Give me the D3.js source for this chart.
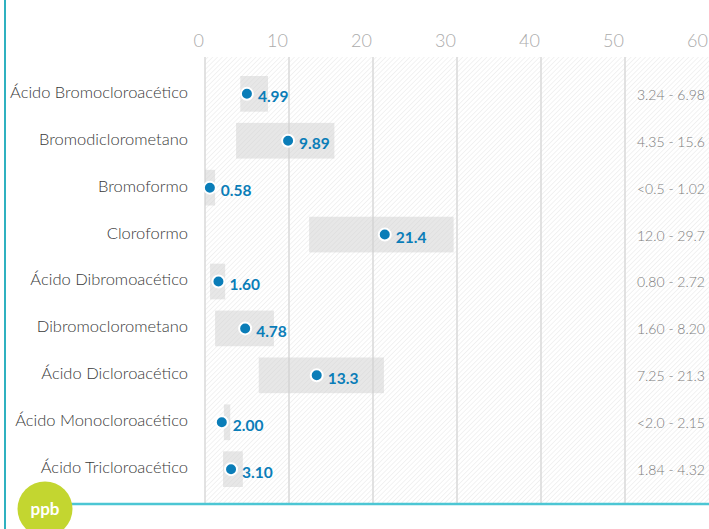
<!DOCTYPE html>
<html lang="es">
    <head>
        <meta charset="utf-8">
        <title>Subproductos de desinfección - ppb</title>
        <script src="https://d3js.org/d3.v7.min.js"></script>
        <style>
            body { margin: 0; background: #fff; }
            text { font-family: Lato, "Noto Sans", sans-serif; }
        </style>
    </head>
    <body>
        <script type="text/javascript">

            // chart data
            var compounds = ["Ácido Bromocloroacético", "Bromodiclorometano", "Bromoformo", "Cloroformo",
                "Ácido Dibromoacético", "Dibromoclorometano", "Ácido Dicloroacético",
                "Ácido Monocloroacético", "Ácido Tricloroacético"];
            var values = [4.99, 9.89, 0.58, 21.4, 1.60, 4.78, 13.3, 2.00, 3.10];
            var valueLabels = ["4.99", "9.89", "0.58", "21.4", "1.60", "4.78", "13.3", "2.00", "3.10"];
            var rangeLabels = ["3.24 - 6.98", "4.35 - 15.6", "<0.5 - 1.02", "12.0 - 29.7", "0.80 - 2.72",
                "1.60 - 8.20", "7.25 - 21.3", "<2.0 - 2.15", "1.84 - 4.32"];
            // shaded boxes, as drawn in the picture
            var boxLow = [4.2, 3.7, 0, 12.4, 0.6, 1.2, 6.4, 2.25, 2.15];
            var boxHigh = [7.5, 15.4, 1.2, 29.6, 2.4, 8.2, 21.3, 3.0, 4.5];
            var ticks = [0, 10, 20, 30, 40, 50, 60];
            var unit = "ppb";

            var w = 709;
            var h = 529;
            var plotTop = 57, plotBottom = 504;

            var x = d3.scaleLinear().domain([0, 60]).range([205, 709]);
            var y = d3.scaleBand().domain(compounds).range([76, 487]).paddingInner(0.24).paddingOuter(0);

            var blue = "#0a7db8";

            var svg = d3.select("body")
                .append("svg")
                .attr("width", w)
                .attr("height", h);

            // hatch pattern
            var pat = svg.append("defs").append("pattern")
                .attr("id", "hatch")
                .attr("patternUnits", "userSpaceOnUse")
                .attr("width", 3.4)
                .attr("height", 3.4)
                .attr("patternTransform", "rotate(45)");
            pat.append("line")
                .attr("x1", 0).attr("y1", 0).attr("x2", 0).attr("y2", 3.4)
                .attr("stroke", "#e2e2e2")
                .attr("stroke-width", 0.9);

            svg.append("rect")
                .attr("x", x(0))
                .attr("y", plotTop)
                .attr("width", x(60) - x(0))
                .attr("height", plotBottom - plotTop)
                .attr("fill", "url(#hatch)");

            // grid
            svg.selectAll("line.grid")
                .data(ticks.slice(0, 6))
                .enter()
                .append("line")
                .attr("class", "grid")
                .attr("x1", function(d) { return x(d); })
                .attr("x2", function(d) { return x(d); })
                .attr("y1", plotTop)
                .attr("y2", plotBottom)
                .attr("stroke", "#d9d9d9")
                .attr("stroke-width", 1.5);

            // tick labels
            svg.selectAll("text.tick")
                .data(ticks)
                .enter()
                .append("text")
                .attr("class", "tick")
                .attr("x", function(d) { return x(d) - 1; })
                .attr("y", 47)
                .attr("text-anchor", "end")
                .attr("fill", "#ababab")
                .attr("font-size", 18)
                .attr("font-weight", 300)
                .text(function(d) { return d; });

            var rows = compounds.map(function(c, i) {
                return { name: c, value: values[i], label: valueLabels[i], range: rangeLabels[i],
                         lo: boxLow[i], hi: boxHigh[i] };
            });

            var g = svg.selectAll("g.row")
                .data(rows)
                .enter()
                .append("g")
                .attr("class", "row")
                .attr("transform", function(d) { return "translate(0," + y(d.name) + ")"; });

            var bh = y.bandwidth();

            // range boxes
            g.append("rect")
                .attr("x", function(d) { return x(d.lo); })
                .attr("width", function(d) { return x(d.hi) - x(d.lo); })
                .attr("y", 0)
                .attr("height", bh)
                .attr("fill", "#cfcfcf")
                .attr("opacity", 0.5);

            // category labels
            g.append("text")
                .attr("x", 188)
                .attr("y", bh / 2 + 4)
                .attr("text-anchor", "end")
                .attr("fill", "#3a3a3a")
                .attr("font-size", 16.5)
                .attr("font-weight", 300)
                .text(function(d) { return d.name; });

            // range labels
            g.append("text")
                .attr("x", 705)
                .attr("y", bh / 2 + 6)
                .attr("text-anchor", "end")
                .attr("fill", "#7c7c7c")
                .attr("font-size", 14)
                .attr("font-weight", 300)
                .text(function(d) { return d.range; });

            // points
            g.append("circle")
                .attr("cx", function(d) { return x(d.value); })
                .attr("cy", bh / 2)
                .attr("r", 6)
                .attr("fill", blue)
                .attr("stroke", "#fff")
                .attr("stroke-width", 2);

            g.append("text")
                .attr("x", function(d) { return x(d.value) + 11; })
                .attr("y", bh / 2 + 8.5)
                .attr("fill", blue)
                .attr("font-size", 15.5)
                .attr("font-weight", 700)
                .text(function(d) { return d.label; });

            // frame lines
            svg.append("line")
                .attr("x1", 5).attr("x2", 5)
                .attr("y1", 0).attr("y2", h)
                .attr("stroke", "#2fb1c0")
                .attr("stroke-width", 2);

            svg.append("line")
                .attr("x1", 60).attr("x2", w)
                .attr("y1", plotBottom).attr("y2", plotBottom)
                .attr("stroke", "#4cc6d4")
                .attr("stroke-width", 2.5);

            // unit badge
            svg.append("circle")
                .attr("cx", 45)
                .attr("cy", 509)
                .attr("r", 27.5)
                .attr("fill", "#c3d630");

            svg.append("text")
                .attr("x", 45)
                .attr("y", 515)
                .attr("text-anchor", "middle")
                .attr("fill", "#fff")
                .attr("font-size", 17)
                .attr("font-weight", 700)
                .text(unit);

        </script>
    </body>
</html>
